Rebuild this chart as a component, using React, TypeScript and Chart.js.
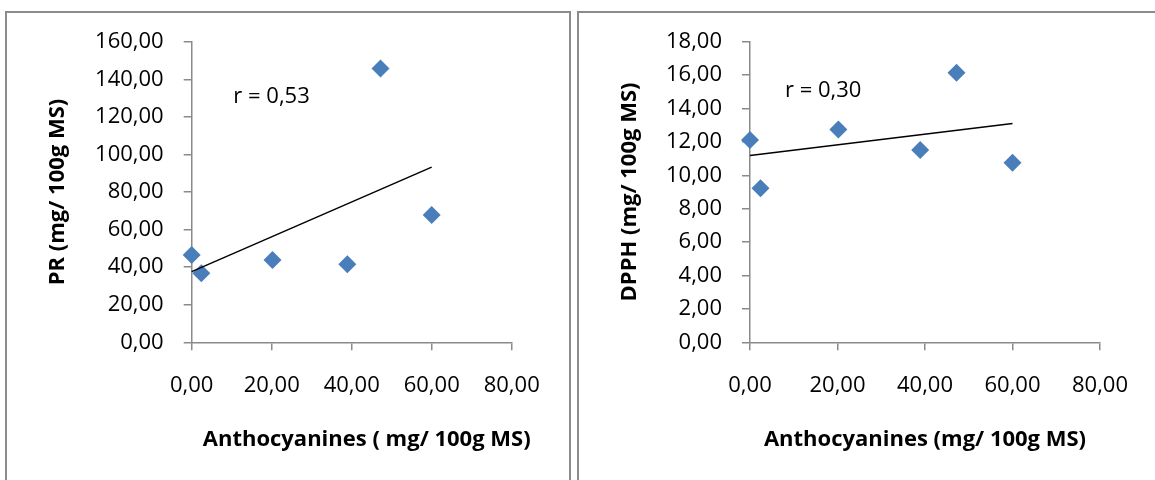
import React, { useEffect, useRef } from "react";
import { Chart, registerables } from "chart.js";

Chart.register(...registerables);

// ---- data ----
const anthocyanines = [0, 2.4, 20.2, 38.9, 47.2, 60.0];
const prValues = [46.5, 36.7, 43.8, 41.5, 145.8, 67.7];
const dpphValues = [12.11, 9.22, 12.75, 11.51, 16.14, 10.75];

const xAxisRange = [0, 80];
const xStep = 20;
const prAxisRange = [0, 160];
const prStep = 20;
const dpphAxisRange = [0, 18];
const dpphStep = 2;

const prLabel = "r = 0,53";
const dpphLabel = "r = 0,30";
const prLabelAt = [10.4, 127.5];
const dpphLabelAt = [8.0, 14.7];

const xTitleLeft = "Anthocyanines ( mg/ 100g MS)";
const xTitleRight = "Anthocyanines (mg/ 100g MS)";
const yTitleLeft = "PR (mg/ 100g MS)";
const yTitleRight = "DPPH (mg/ 100g MS)";

const FONT = "'Open Sans', sans-serif";
const AXIS_COLOR = "#8a8a8a";
const POINT_COLOR = "#4A7EBB";

function fmt(v: number) {
  return Number(v).toFixed(2).replace(".", ",");
}

function trend(xs: number[], ys: number[]) {
  const n = xs.length;
  const mx = xs.reduce((a, b) => a + b, 0) / n;
  const my = ys.reduce((a, b) => a + b, 0) / n;
  let sxy = 0;
  let sxx = 0;
  for (let i = 0; i < n; i++) {
    sxy += (xs[i] - mx) * (ys[i] - my);
    sxx += (xs[i] - mx) * (xs[i] - mx);
  }
  const b = sxy / sxx;
  const a = my - b * mx;
  const x0 = Math.min(...xs);
  const x1 = Math.max(...xs);
  return [
    { x: x0, y: a + b * x0 },
    { x: x1, y: a + b * x1 },
  ];
}

const textPlugin = {
  id: "extraText",
  afterDraw(chart: any, _args: any, opts: any) {
    const { ctx, chartArea, scales } = chart;
    ctx.save();
    ctx.fillStyle = "#000";
    ctx.font = `bold 22px ${FONT}`;
    ctx.textAlign = "center";
    ctx.textBaseline = "alphabetic";
    ctx.fillText(
      opts.xTitle,
      (chartArea.left + chartArea.right) / 2 + opts.xTitleShift,
      chartArea.bottom + opts.xTitleDrop
    );
    ctx.font = `22px ${FONT}`;
    ctx.textAlign = "left";
    ctx.fillText(
      opts.rLabel,
      scales.x.getPixelForValue(opts.rAt[0]),
      scales.y.getPixelForValue(opts.rAt[1])
    );
    ctx.restore();
  },
};

type PanelProps = {
  width: number;
  height: number;
  ys: number[];
  yRange: number[];
  yStep: number;
  yTitle: string;
  xTitle: string;
  xTitleShift: number;
  rLabel: string;
  rAt: number[];
  yAxisWidth: number;
  padRight: number;
};

function ScatterPanel(p: PanelProps) {
  const ref = useRef<HTMLCanvasElement>(null);
  useEffect(() => {
    if (!ref.current) return;
    const points = anthocyanines.map((x, i) => ({ x, y: p.ys[i] }));
    const chart = new Chart(ref.current, {
      type: "scatter",
      data: {
        datasets: [
          {
            type: "line",
            data: trend(anthocyanines, p.ys),
            borderColor: "#000",
            borderWidth: 1.5,
            pointRadius: 0,
            fill: false,
            clip: false,
            order: 0,
          } as any,
          {
            data: points,
            pointStyle: "rectRot",
            pointRadius: 9,
            pointBackgroundColor: POINT_COLOR,
            pointBorderColor: POINT_COLOR,
            pointBorderWidth: 0,
            clip: false,
            order: 1,
          },
        ],
      },
      options: {
        responsive: false,
        animation: false,
        layout: { padding: { top: 28.7, right: p.padRight, bottom: 0, left: 0 } },
        plugins: {
          legend: { display: false },
          tooltip: { enabled: false },
          extraText: {
            xTitle: p.xTitle,
            xTitleShift: p.xTitleShift,
            xTitleDrop: 103.4,
            rLabel: p.rLabel,
            rAt: p.rAt,
          },
        } as any,
        scales: {
          x: {
            type: "linear",
            min: xAxisRange[0],
            max: xAxisRange[1],
            afterFit: (s: any) => {
              s.height = p.height - 329.3;
              s.paddingLeft = 0;
              s.paddingRight = 0;
            },
            afterBuildTicks: (s: any) => {
              const t = [];
              for (let v = xAxisRange[0]; v <= xAxisRange[1]; v += xStep) t.push({ value: v });
              s.ticks = t;
            },
            ticks: {
              callback: (v: any) => fmt(v),
              font: { family: FONT, size: 22, lineHeight: 1.2 },
              color: "#000",
              padding: 22,
              maxRotation: 0,
              autoSkip: false,
            },
            grid: {
              drawOnChartArea: false,
              drawTicks: true,
              tickLength: 8,
              color: AXIS_COLOR,
              lineWidth: 1.5,
            },
            border: { display: true, color: AXIS_COLOR, width: 1.5 },
          },
          y: {
            type: "linear",
            min: p.yRange[0],
            max: p.yRange[1],
            afterFit: (s: any) => {
              s.width = p.yAxisWidth;
              s.paddingTop = 0;
              s.paddingBottom = 0;
            },
            afterBuildTicks: (s: any) => {
              const t = [];
              for (let v = p.yRange[0]; v <= p.yRange[1] + 1e-9; v += p.yStep) t.push({ value: Math.round(v * 100) / 100 });
              s.ticks = t;
            },
            ticks: {
              callback: (v: any) => fmt(v),
              font: { family: FONT, size: 22, lineHeight: 1.2 },
              color: "#000",
              padding: 20,
              autoSkip: false,
            },
            grid: {
              drawOnChartArea: false,
              drawTicks: true,
              tickLength: 8,
              color: AXIS_COLOR,
              lineWidth: 1.5,
            },
            border: { display: true, color: AXIS_COLOR, width: 1.5 },
            title: {
              display: true,
              text: p.yTitle,
              color: "#000",
              font: { family: FONT, size: 22, weight: "bold", lineHeight: 1.2 },
              padding: { top: 38, bottom: 0 },
            },
          },
        },
      },
      plugins: [textPlugin],
    } as any);
    return () => chart.destroy();
  }, []);
  return <canvas ref={ref} width={p.width} height={p.height} style={{ display: "block" }} />;
}

export default function App() {
  const border = `2px solid #8c8c8c`;
  return (
    <div
      style={{
        position: "fixed",
        left: 0,
        top: 0,
        width: 1155,
        height: 480,
        overflow: "hidden",
        background: "#fff",
      }}
    >
      <div
        style={{
          position: "absolute",
          left: 5,
          top: 11,
          width: 562,
          height: 480,
          borderTop: border,
          borderLeft: border,
          borderRight: border,
        }}
      >
        <ScatterPanel
          width={562}
          height={467}
          ys={prValues}
          yRange={prAxisRange}
          yStep={prStep}
          yTitle={yTitleLeft}
          xTitle={xTitleLeft}
          xTitleShift={15}
          rLabel={prLabel}
          rAt={prLabelAt}
          yAxisWidth={184.7}
          padRight={562 - 504.7}
        />
      </div>
      <div
        style={{
          position: "absolute",
          left: 577,
          top: 11,
          width: 600,
          height: 480,
          borderTop: border,
          borderLeft: border,
        }}
      >
        <ScatterPanel
          width={576}
          height={467}
          ys={dpphValues}
          yRange={dpphAxisRange}
          yStep={dpphStep}
          yTitle={yTitleRight}
          xTitle={xTitleRight}
          xTitleShift={0}
          rLabel={dpphLabel}
          rAt={dpphLabelAt}
          yAxisWidth={171}
          padRight={576 - 521}
        />
      </div>
    </div>
  );
}
